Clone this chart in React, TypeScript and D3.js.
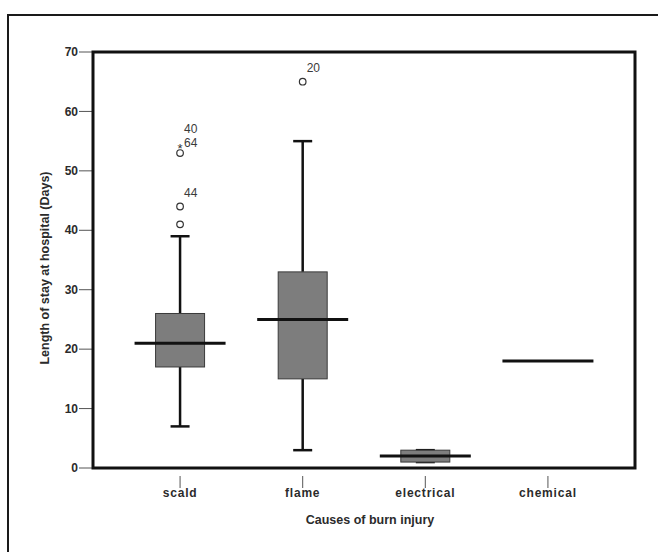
import React, { useEffect, useRef } from "react";
import * as d3 from "d3";

// box plot summary per cause
const causes = ["scald", "flame", "electrical", "chemical"];
const whiskerLow = [7, 3, 1, 18];
const q1 = [17, 15, 1, 18];
const median = [21, 25, 2, 18];
const q3 = [26, 33, 3, 18];
const whiskerHigh = [39, 55, 3, 18];

// outliers / extremes with their case labels
const outlierCause = ["scald", "scald", "scald", "scald", "flame"];
const outlierValue = [41, 44, 53, 54, 65];
const outlierShape = ["o", "o", "o", "*", "o"];
const outlierLabel = ["", "44", "64", "40", "20"];

const yTicks = [0, 10, 20, 30, 40, 50, 60, 70];

export default function App() {
  const ref = useRef<SVGSVGElement>(null);

  useEffect(() => {
    document.body.style.margin = "0";
    const svg = d3.select(ref.current);
    svg.selectAll("*").remove();

    const W = 658, H = 552;
    const left = 93, right = 635, top = 52, bottom = 468;
    const font = "Arial, 'Liberation Sans', sans-serif";
    const ink = "#2b2b2b";

    const x = d3.scalePoint().domain(causes).range([left, right]).padding(0.71);
    const y = d3.scaleLinear().domain([0, 70]).range([bottom, top]);

    svg.attr("width", W).attr("height", H);
    svg.append("rect").attr("width", W).attr("height", H).attr("fill", "#fff");

    // outer frame
    svg.append("rect").attr("x", 8).attr("y", 15).attr("width", 700).attr("height", 600)
      .attr("fill", "none").attr("stroke", "#1a1a1a").attr("stroke-width", 2);

    // y ticks + labels
    const yg = svg.append("g");
    yg.selectAll("line").data(yTicks).join("line")
      .attr("x1", left - 14).attr("x2", left).attr("y1", d => y(d)).attr("y2", d => y(d))
      .attr("stroke", "#555").attr("stroke-width", 1);
    yg.selectAll("text").data(yTicks).join("text")
      .attr("x", left - 15).attr("y", d => y(d)).attr("dy", "0.35em")
      .attr("text-anchor", "end").attr("font-family", font).attr("font-weight", "bold")
      .attr("font-size", 12).attr("fill", ink).text(d => d);

    // x ticks + labels
    const xg = svg.append("g");
    xg.selectAll("line").data(causes).join("line")
      .attr("x1", d => x(d)!).attr("x2", d => x(d)!).attr("y1", bottom + 8).attr("y2", bottom + 20)
      .attr("stroke", "#555").attr("stroke-width", 1);
    xg.selectAll("text").data(causes).join("text")
      .attr("x", d => x(d)!).attr("y", 497)
      .attr("text-anchor", "middle").attr("font-family", font).attr("font-weight", "bold")
      .attr("font-size", 12).attr("letter-spacing", 0.8).attr("fill", ink).text(d => d);

    // axis titles
    svg.append("text").attr("x", (left + right) / 2 + 6).attr("y", 524)
      .attr("text-anchor", "middle").attr("font-family", font).attr("font-weight", "bold")
      .attr("font-size", 12.5).attr("fill", ink).text("Causes of burn injury");
    svg.append("text").attr("transform", `translate(49, ${(top + bottom) / 2 + 8}) rotate(-90)`)
      .attr("text-anchor", "middle").attr("font-family", font).attr("font-weight", "bold")
      .attr("font-size", 12.5).attr("fill", ink).text("Length of stay at hospital (Days)");

    // boxes
    const boxW = 49, medW = 91, capW = 19;
    const g = svg.append("g");
    causes.forEach((c, i) => {
      const cx = x(c)!;
      if (whiskerHigh[i] > whiskerLow[i]) {
        g.append("line").attr("x1", cx).attr("x2", cx).attr("y1", y(whiskerHigh[i])).attr("y2", y(q3[i]))
          .attr("stroke", "#111").attr("stroke-width", 2.5);
        g.append("line").attr("x1", cx).attr("x2", cx).attr("y1", y(q1[i])).attr("y2", y(whiskerLow[i]))
          .attr("stroke", "#111").attr("stroke-width", 2.5);
        [whiskerHigh[i], whiskerLow[i]].forEach(v => {
          g.append("line").attr("x1", cx - capW / 2).attr("x2", cx + capW / 2).attr("y1", y(v)).attr("y2", y(v))
            .attr("stroke", "#111").attr("stroke-width", 2.5);
        });
        g.append("rect").attr("x", cx - boxW / 2).attr("width", boxW)
          .attr("y", y(q3[i])).attr("height", y(q1[i]) - y(q3[i]))
          .attr("fill", "#7d7d7d").attr("stroke", "#3a3a3a").attr("stroke-width", 1);
      }
      g.append("line").attr("x1", cx - medW / 2).attr("x2", cx + medW / 2)
        .attr("y1", y(median[i])).attr("y2", y(median[i]))
        .attr("stroke", "#111").attr("stroke-width", 3);
    });

    // outliers
    outlierValue.forEach((v, i) => {
      const cx = x(outlierCause[i])!;
      if (outlierShape[i] === "o") {
        g.append("circle").attr("cx", cx).attr("cy", y(v)).attr("r", 3.3)
          .attr("fill", "#fff").attr("stroke", "#333").attr("stroke-width", 1.2);
      } else {
        g.append("text").attr("x", cx).attr("y", y(v) + 6).attr("text-anchor", "middle")
          .attr("font-family", font).attr("font-size", 13).attr("fill", "#333").text("*");
      }
      if (outlierLabel[i]) {
        // the two stacked scald labels are nudged apart a little
        const dy = outlierLabel[i] === "40" ? -18 : outlierLabel[i] === "64" ? -10 : -14;
        g.append("text").attr("x", cx + 4).attr("y", y(v) + dy).attr("dy", "0.35em")
          .attr("font-family", font).attr("font-size", 12).attr("fill", "#3a3a3a").text(outlierLabel[i]);
      }
    });

    // plot frame (thick)
    svg.append("rect").attr("x", left).attr("y", top).attr("width", right - left).attr("height", bottom - top)
      .attr("fill", "none").attr("stroke", "#111").attr("stroke-width", 3);
  }, []);

  return <svg ref={ref} style={{ display: "block" }} />;
}
